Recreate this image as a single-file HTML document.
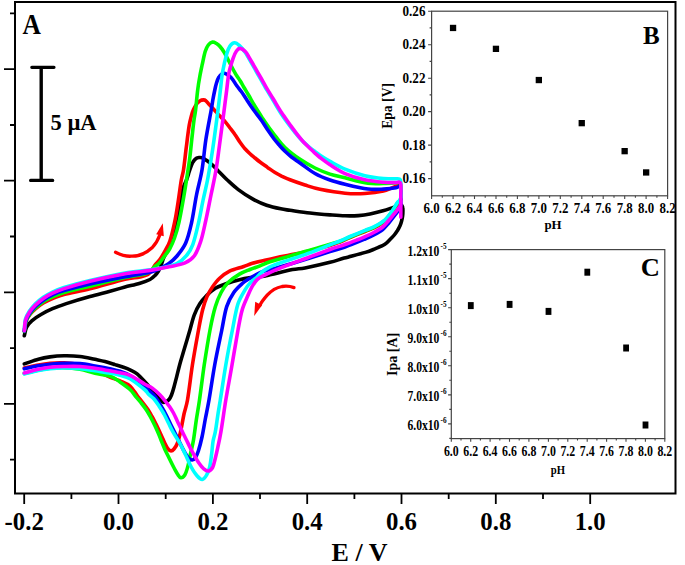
<!DOCTYPE html>
<html><head><meta charset="utf-8"><title>CV</title>
<style>
html,body{margin:0;padding:0;background:#fff;}
body{width:685px;height:565px;overflow:hidden;position:relative;}
svg{position:absolute;left:0;top:0;display:block;}
text{font-family:"Liberation Serif",serif;font-weight:bold;fill:#000;}
.xl{font-size:24.8px;text-anchor:middle;}
.xt{font-size:26px;text-anchor:middle;}
.pl{font-size:28.6px;}
.pl2{font-size:25px;}
.sb{font-size:22.5px;}
.byl{font-size:14.3px;text-anchor:end;}
.bxl{font-size:14px;text-anchor:middle;}
.bt{font-size:13px;text-anchor:middle;}
.bt2{font-size:14px;text-anchor:middle;}
.cyl{font-size:14px;text-anchor:end;}
.cye{font-size:8px;text-anchor:start;}
.cxl{font-size:15px;text-anchor:middle;}
</style></head><body>
<svg width="685" height="565" viewBox="0 0 685 565">
<path d="M15 2.1H675.5V493.5H15Z" fill="none" stroke="#000" stroke-width="2"/>
<path d="M10.0 13.4H15M4.0 69.2H15M10.0 125.0H15M4.0 180.7H15M10.0 236.5H15M4.0 292.3H15M10.0 348.1H15M4.0 403.9H15M10.0 459.6H15" stroke="#000" stroke-width="1.8"/>
<path d="M24.2 493.5V504.0M71.4 493.5V499.0M118.5 493.5V504.0M165.7 493.5V499.0M212.9 493.5V504.0M260.0 493.5V499.0M307.2 493.5V504.0M354.4 493.5V499.0M401.5 493.5V504.0M448.7 493.5V499.0M495.8 493.5V504.0M543.0 493.5V499.0M590.2 493.5V504.0" stroke="#000" stroke-width="1.8"/>
<text x="24.2" y="529.6" class="xl">-0.2</text>
<text x="118.5" y="529.6" class="xl">0.0</text>
<text x="212.9" y="529.6" class="xl">0.2</text>
<text x="307.2" y="529.6" class="xl">0.4</text>
<text x="401.5" y="529.6" class="xl">0.6</text>
<text x="495.8" y="529.6" class="xl">0.8</text>
<text x="590.2" y="529.6" class="xl">1.0</text>
<text x="359.5" y="561" class="xt">E / V</text>
<text transform="translate(22.6 34) scale(0.89 1)" class="pl">A</text>
<path d="M41.2 67.3V180.4" stroke="#000" stroke-width="3.4"/>
<path d="M31.8 67.3H54M30.6 180.4H52.7" stroke="#000" stroke-width="3.2" stroke-linecap="round"/>
<text x="50.5" y="129.7" class="sb">5 &#181;A</text>
<path d="M24.3 335.7C25.1 332.8 25.3 329.6 26.6 327.1C27.8 324.7 29.6 322.7 31.8 320.8C34.4 318.5 37.7 316.4 41.0 314.5C44.6 312.4 48.4 310.5 52.5 308.7C56.9 306.8 60.9 305.4 66.3 303.6C73.4 301.3 82.4 298.6 90.0 296.5C97.0 294.5 103.8 293.0 110.0 291.3C115.4 289.8 120.0 288.4 125.0 287.0C130.0 285.7 135.4 284.6 140.0 283.2C143.8 282.1 147.2 280.9 150.0 279.5C152.2 278.4 153.5 277.0 155.0 275.5C156.4 274.1 157.5 272.6 158.5 271.0C159.5 269.3 160.3 267.4 161.0 265.5C161.8 263.6 162.2 261.5 163.0 259.5C163.9 257.4 165.0 255.2 166.0 253.0C167.0 250.8 168.0 248.8 169.0 246.5C170.0 244.1 171.1 241.5 172.0 239.0C172.9 236.6 173.7 235.2 174.5 232.0C175.7 227.2 176.9 220.5 178.0 215.0C179.0 209.8 179.9 204.8 180.8 200.0C181.7 195.5 182.4 190.8 183.5 187.0C184.3 184.1 185.6 182.3 186.5 180.0C187.3 177.9 187.9 176.0 188.5 174.0C189.1 172.1 189.6 170.2 190.3 168.3C191.1 166.2 192.0 163.8 193.0 162.0C193.9 160.5 194.9 159.3 196.0 158.5C196.9 157.8 198.0 157.6 199.0 157.5C200.1 157.4 201.2 157.4 202.3 157.8C203.5 158.2 204.7 159.1 206.0 160.0C207.5 161.0 209.4 162.4 210.8 163.6C212.0 164.6 212.8 165.4 214.0 166.5C215.4 167.9 216.7 169.3 218.5 171.2C221.0 173.7 223.9 176.8 227.0 179.7C230.5 182.9 234.2 186.5 238.3 189.6C242.7 192.9 247.7 196.2 252.5 198.9C257.1 201.4 261.8 203.5 266.6 205.2C271.3 206.8 276.5 207.9 280.8 208.8C284.3 209.6 286.1 209.7 290.0 210.3C295.8 211.1 303.3 212.2 310.0 213.0C316.7 213.8 323.7 214.4 330.0 214.9C335.4 215.3 340.1 215.7 345.0 215.8C349.6 215.9 354.0 215.9 358.3 215.6C362.3 215.3 366.0 214.8 370.0 214.0C374.2 213.2 378.9 212.0 383.0 210.8C386.7 209.8 390.3 208.4 393.3 207.4C395.4 206.7 396.9 206.0 398.5 205.6C399.7 205.3 400.8 204.9 401.5 205.2C402.2 205.5 402.5 206.6 402.7 207.5C403.0 208.5 402.9 209.7 402.9 211.0C402.9 212.5 402.8 214.3 402.6 216.0C402.4 217.7 402.0 219.4 401.6 221.0C401.2 222.6 400.7 224.2 400.0 225.8C399.3 227.4 398.4 229.0 397.5 230.5C396.5 232.0 395.5 233.5 394.3 235.0C393.0 236.6 391.5 238.1 390.0 239.6C388.4 241.2 387.1 242.9 384.9 244.3C382.1 246.0 378.3 247.4 375.0 248.8C371.8 250.1 369.6 251.1 365.4 252.4C359.3 254.2 350.7 256.3 344.2 258.1C338.9 259.6 335.6 260.9 330.0 262.3C322.6 264.2 312.3 266.5 305.0 267.9C299.8 268.9 297.4 268.6 292.5 269.6C286.1 270.9 277.2 273.2 271.2 274.6C267.8 275.4 267.1 275.8 264.2 276.2C260.3 276.8 255.1 277.0 250.8 277.6C246.8 278.2 243.5 278.7 239.5 279.7C235.0 280.8 229.6 282.5 225.3 284.0C221.6 285.3 218.4 286.3 215.4 288.2C212.3 290.1 209.5 292.7 206.9 295.3C204.3 297.9 201.8 300.6 199.8 303.8C197.6 307.2 195.8 311.0 194.2 315.1C192.5 319.7 191.4 324.8 189.9 330.0C188.2 335.8 186.2 342.5 184.5 348.3C183.0 353.4 181.6 357.8 180.3 362.5C179.0 367.2 177.8 372.2 176.7 376.6C175.7 380.4 174.9 383.7 174.0 387.0C173.2 389.9 172.4 392.7 171.5 395.0C170.8 396.8 170.0 398.3 169.0 399.5C168.2 400.5 167.1 401.3 166.0 401.8C165.1 402.2 164.0 402.9 163.0 402.3C161.5 401.4 160.0 399.4 158.3 397.5C156.1 395.0 153.6 391.8 151.2 389.0C148.9 386.3 146.6 383.6 144.2 381.0C141.9 378.5 139.6 375.8 137.1 373.8C134.9 372.0 132.5 371.0 130.0 369.8C127.5 368.6 124.6 367.7 122.0 366.8C119.6 366.0 117.6 365.4 115.0 364.6C111.9 363.6 108.4 362.4 105.0 361.5C101.7 360.6 98.8 360.1 95.0 359.3C90.4 358.4 85.1 357.1 80.0 356.5C74.8 355.9 69.2 355.7 64.0 355.8C59.2 355.9 54.4 356.3 50.0 356.9C45.9 357.5 42.4 358.2 38.4 359.3C33.9 360.5 29.0 362.4 24.3 363.9" fill="none" stroke="#000000" stroke-width="3.6" stroke-linejoin="round" stroke-linecap="round"/>
<path d="M24.3 330.8C24.9 327.7 25.0 324.3 26.0 321.5C26.9 318.9 28.4 316.6 30.0 314.5C31.7 312.3 33.8 310.4 36.0 308.5C38.3 306.5 40.4 304.7 43.3 303.0C46.7 301.0 51.1 299.0 54.8 297.5C58.0 296.2 59.6 295.5 64.0 294.4C71.3 292.6 80.6 291.0 90.0 288.7C101.0 286.0 114.9 281.6 125.0 279.2C131.5 277.7 135.6 277.9 140.0 277.0C143.3 276.3 145.8 275.8 148.0 274.5C149.8 273.4 150.8 271.6 152.0 270.0C153.2 268.4 153.8 266.7 155.0 265.0C156.4 263.1 158.4 261.5 160.0 259.3C161.7 256.9 163.2 254.3 164.8 251.4C166.5 248.2 168.5 245.3 169.9 241.0C171.8 235.4 173.3 228.5 174.7 221.9C176.2 214.9 177.3 207.1 178.4 200.0C179.5 193.2 180.3 185.8 181.3 180.0C182.0 175.8 182.8 174.4 183.5 170.0C184.5 163.3 185.4 154.2 186.4 146.6C187.3 139.3 188.2 131.5 189.2 125.4C189.9 121.2 190.7 118.5 191.5 115.5C192.1 113.2 192.6 111.5 193.5 109.5C194.4 107.5 195.8 105.1 197.0 103.5C197.9 102.2 198.9 101.4 200.0 100.8C201.0 100.2 202.3 99.9 203.4 99.9C204.3 99.9 205.2 100.2 206.0 100.9C207.1 101.8 207.9 103.1 209.2 104.5C210.8 106.2 212.8 108.3 214.6 110.2C216.4 112.1 218.1 114.1 219.9 116.0C221.7 117.9 223.6 119.8 225.3 121.8C227.0 123.8 228.4 125.9 230.0 128.0C231.7 130.2 233.5 132.4 235.1 134.8C236.8 137.2 238.3 139.9 240.0 142.3C241.6 144.6 243.3 146.8 245.0 148.8C246.6 150.6 248.3 152.2 250.0 153.8C251.6 155.3 253.3 156.6 255.0 158.0C256.7 159.4 258.1 160.6 260.0 162.0C262.3 163.7 265.0 165.6 267.5 167.4C270.0 169.1 272.5 171.0 275.0 172.5C277.3 173.9 279.6 175.1 282.0 176.3C284.6 177.5 286.7 178.6 290.0 179.8C294.4 181.5 300.0 183.4 305.0 185.0C310.0 186.6 314.1 188.1 320.0 189.3C327.5 190.8 337.1 192.5 345.0 193.2C352.0 193.9 358.3 193.9 364.8 193.5C371.1 193.1 377.8 192.3 383.4 191.0C387.9 190.0 391.7 187.9 395.0 186.6C397.2 185.7 398.6 184.5 399.8 184.5C400.6 184.5 400.7 185.3 400.8 186.5C401.0 188.8 400.8 192.5 400.8 195.0C400.8 196.7 401.0 197.8 400.8 199.0C400.6 200.1 400.1 201.1 399.5 202.0C399.0 202.8 398.3 202.7 397.4 204.0C395.6 206.5 393.3 210.6 391.2 213.5C389.2 216.2 387.7 218.8 385.0 221.0C381.9 223.6 377.4 226.1 373.8 228.0C370.7 229.6 368.4 230.1 365.0 231.5C360.5 233.3 354.6 235.6 350.0 237.5C346.2 239.1 343.4 240.7 340.0 242.0C336.7 243.3 334.6 244.2 330.0 245.5C322.9 247.5 312.6 250.2 305.0 252.0C299.1 253.4 294.5 254.1 289.6 255.1C285.2 256.0 281.3 256.7 277.2 257.6C273.1 258.5 268.9 259.4 264.8 260.3C260.7 261.3 256.2 262.2 252.4 263.3C249.2 264.3 247.1 265.3 243.7 266.5C239.5 268.0 233.8 269.1 229.6 271.2C225.8 273.1 222.5 275.6 219.6 278.3C216.8 280.8 214.7 283.8 212.6 286.8C210.5 289.9 208.5 293.1 206.9 296.7C205.2 300.6 203.9 304.6 202.7 309.5C201.1 315.7 200.0 322.0 198.5 330.0C196.6 340.5 194.2 353.3 192.4 365.0C190.6 376.7 189.2 390.0 187.5 400.0C186.4 406.4 185.1 409.0 184.0 414.0C182.8 419.7 181.7 426.6 180.5 432.0C179.5 436.3 178.7 439.8 177.5 443.0C176.6 445.5 175.3 447.5 174.0 449.0C173.1 450.1 172.0 450.9 171.0 450.9C170.0 450.9 168.8 449.8 168.0 448.8C167.0 447.7 166.3 446.1 165.5 444.5C164.6 442.7 163.7 440.6 162.7 438.5C161.7 436.3 160.6 433.9 159.5 431.5C158.4 429.0 157.2 426.5 156.0 424.0C154.7 421.5 153.4 418.9 152.0 416.5C150.7 414.1 149.4 411.8 147.9 409.5C146.3 407.1 144.5 404.8 142.7 402.5C141.0 400.3 139.4 398.5 137.5 396.0C135.2 393.0 133.0 388.6 130.0 386.0C127.2 383.5 123.3 382.3 120.0 380.8C117.0 379.4 114.5 379.0 111.0 377.5C106.2 375.5 100.3 372.6 95.0 370.5C89.9 368.5 85.2 366.3 80.0 365.0C74.8 363.7 69.2 363.1 64.0 362.8C59.2 362.5 54.5 362.8 50.0 363.2C45.9 363.6 42.5 364.2 38.4 365.0C33.9 365.8 29.0 367.0 24.3 368.0" fill="none" stroke="#ff0000" stroke-width="3.6" stroke-linejoin="round" stroke-linecap="round"/>
<path d="M24.3 331.5C24.9 328.2 25.0 324.5 26.0 321.5C26.9 318.7 28.3 316.3 30.0 314.0C31.7 311.6 33.7 309.6 36.0 307.5C38.4 305.3 41.2 303.0 44.0 301.2C46.8 299.4 49.8 297.9 53.0 296.5C56.5 295.0 59.1 293.9 64.0 292.5C71.4 290.4 80.6 288.5 90.0 286.2C100.9 283.5 114.5 279.8 125.0 277.5C132.9 275.8 139.5 275.5 145.0 274.0C148.2 273.1 149.3 271.8 151.0 270.5C152.5 269.4 153.2 268.0 154.5 266.8C155.9 265.6 157.7 264.8 159.2 263.3C160.9 261.5 162.3 259.2 164.0 256.9C165.8 254.4 167.9 252.0 169.6 249.0C171.4 245.7 173.1 242.1 174.5 238.0C176.2 233.1 177.7 227.9 179.0 222.0C180.6 215.2 181.9 207.2 183.2 200.0C184.4 193.2 185.4 186.7 186.5 180.0C187.5 173.3 188.6 166.7 189.5 160.0C190.4 153.3 191.0 146.7 191.7 140.0C192.5 133.3 193.2 125.9 194.0 120.0C194.5 115.9 195.1 114.2 195.6 110.0C196.3 104.2 196.9 96.1 197.7 90.0C198.3 85.0 199.0 80.8 199.8 76.5C200.5 72.6 201.2 69.4 202.0 65.5C203.0 61.1 204.0 55.5 205.2 51.5C206.1 48.7 207.0 46.7 208.3 45.0C209.4 43.5 211.2 42.3 212.6 42.0C213.9 41.8 215.3 42.8 216.5 43.5C217.8 44.3 218.9 45.2 220.0 46.5C221.4 48.1 222.7 49.9 224.0 52.0C225.5 54.5 227.0 57.6 228.5 60.5C230.1 63.6 231.9 67.2 233.4 70.0C234.6 72.2 235.5 73.8 236.6 75.6C237.8 77.4 239.1 79.1 240.3 81.0C241.6 83.0 242.7 85.3 244.0 87.5C245.4 89.9 246.9 92.2 248.5 95.0C250.5 98.4 252.5 102.2 254.8 106.0C257.3 110.1 260.2 114.6 262.7 118.5C264.9 121.8 266.8 124.5 268.9 127.5C271.1 130.5 273.1 133.4 275.6 136.5C278.5 140.0 281.2 144.0 285.0 147.5C289.3 151.6 294.9 155.8 300.0 159.3C304.9 162.6 309.9 165.5 315.0 168.0C319.9 170.4 324.9 172.4 330.0 174.1C334.9 175.7 339.3 176.4 345.0 177.8C352.0 179.5 360.9 182.1 368.0 183.2C373.7 184.0 378.5 183.5 383.4 183.5C387.8 183.5 392.5 183.2 396.0 183.0C397.9 182.9 398.9 182.1 399.8 182.5C400.5 182.8 400.7 183.6 400.8 185.0C401.0 187.5 400.8 191.4 400.8 194.0C400.8 195.9 401.0 197.2 400.8 198.5C400.6 199.6 400.1 200.5 399.5 201.3C398.9 202.1 398.3 201.9 397.4 203.2C395.6 205.8 393.3 209.8 391.2 212.8C389.2 215.5 387.7 218.1 385.0 220.3C381.9 222.9 377.4 225.5 373.8 227.4C370.7 229.0 368.4 229.5 365.0 230.9C360.5 232.7 354.6 235.1 350.0 237.0C346.2 238.6 343.0 240.2 340.0 241.3C338.0 242.1 337.4 242.1 335.0 242.8C330.8 244.1 325.0 245.8 320.0 247.3C315.0 248.8 310.4 250.0 305.0 251.6C298.7 253.4 291.3 255.7 285.0 257.5C279.6 259.1 274.6 260.3 270.0 261.8C266.2 263.1 263.3 264.5 260.0 265.8C256.7 267.1 253.4 268.1 250.0 269.5C246.5 270.9 243.0 272.0 239.5 274.1C235.7 276.4 231.3 279.4 228.1 282.6C225.2 285.5 223.1 288.7 221.1 292.5C218.9 296.7 217.0 301.1 215.4 306.6C213.3 313.6 211.7 321.2 210.0 330.0C208.0 340.7 206.0 353.3 204.2 365.0C202.5 376.7 201.0 389.6 199.5 400.0C198.4 407.9 197.3 413.3 196.3 420.0C195.3 426.7 194.5 434.0 193.5 440.0C192.7 444.7 191.7 448.4 190.9 452.0C190.3 454.7 190.0 456.6 189.5 459.0C188.9 461.6 188.5 464.4 187.7 467.0C186.9 469.7 186.1 473.0 184.8 475.0C183.8 476.5 182.0 477.8 180.8 477.7C179.7 477.6 178.7 475.8 177.8 474.5C176.7 472.9 175.8 471.2 174.6 469.0C173.1 466.1 171.3 462.5 169.7 459.2C168.1 456.0 166.4 452.7 164.9 449.5C163.5 446.3 162.2 443.0 161.0 440.0C159.9 437.3 159.1 435.0 158.0 432.5C156.9 430.0 155.8 427.5 154.6 425.0C153.3 422.4 151.9 419.6 150.5 417.0C149.2 414.6 147.9 412.3 146.4 410.0C144.8 407.6 143.0 405.2 141.2 403.0C139.5 400.8 137.8 399.0 136.0 396.8C134.1 394.5 132.5 391.8 130.0 389.5C127.1 386.9 123.3 384.3 120.0 382.0C117.0 379.9 114.7 377.8 111.0 376.5C106.4 374.9 100.2 374.4 95.0 373.2C89.9 372.0 85.1 370.2 80.0 369.3C74.8 368.4 69.2 367.8 64.0 367.6C59.2 367.4 54.5 367.8 50.0 368.2C45.9 368.6 42.5 369.2 38.4 370.0C33.9 370.9 29.0 372.3 24.3 373.5" fill="none" stroke="#00ff00" stroke-width="3.6" stroke-linejoin="round" stroke-linecap="round"/>
<path d="M24.3 331.0C24.9 327.5 25.0 323.7 26.0 320.5C26.9 317.6 28.4 315.2 30.0 312.8C31.7 310.4 33.7 308.1 36.0 306.0C38.4 303.8 41.2 301.6 44.0 299.7C46.8 297.8 49.8 296.2 53.0 294.7C56.4 293.1 59.1 292.0 64.0 290.6C71.4 288.5 80.6 286.1 90.0 284.0C100.9 281.5 114.1 278.9 125.0 276.8C134.1 275.0 143.0 273.9 150.0 272.3C153.9 271.4 154.9 270.8 157.7 269.5C161.2 267.9 165.6 265.8 168.9 263.5C172.0 261.3 174.4 259.1 177.0 256.0C180.0 252.3 183.5 248.1 185.7 243.0C188.3 237.1 189.8 230.4 191.5 223.0C193.4 214.4 194.7 204.1 196.5 195.0C198.2 186.4 200.5 178.8 202.0 170.0C203.6 160.5 204.3 150.0 205.8 140.0C207.3 130.0 209.7 118.5 211.2 110.0C212.1 104.8 212.4 102.5 213.0 99.0C213.6 95.8 214.2 92.8 214.8 90.0C215.3 87.5 215.8 85.2 216.5 83.0C217.1 81.0 217.8 78.9 218.8 77.3C219.6 75.9 220.7 74.7 221.8 74.0C222.6 73.4 223.5 73.1 224.5 73.3C225.8 73.6 227.3 74.7 228.6 75.6C229.8 76.4 230.7 76.9 231.8 78.3C233.4 80.2 235.0 83.2 236.6 85.5C238.1 87.6 239.7 89.3 241.3 91.5C243.1 94.0 244.7 96.7 246.6 99.5C248.7 102.7 250.9 106.2 253.3 109.5C255.8 113.0 258.8 116.5 261.2 120.0C263.5 123.2 265.3 126.4 267.4 129.5C269.6 132.7 271.9 136.1 274.1 139.0C276.1 141.6 278.1 143.8 280.0 146.0C281.7 147.9 283.2 149.5 285.0 151.3C287.0 153.2 289.1 155.1 291.5 157.0C294.1 159.0 296.6 160.6 300.0 163.0C304.5 166.1 309.9 170.6 315.0 173.5C319.9 176.3 324.9 178.2 330.0 180.0C334.9 181.8 339.3 182.9 345.0 184.2C352.0 185.9 360.9 188.1 368.0 189.0C373.7 189.7 378.5 189.3 383.4 189.1C387.8 188.9 392.5 188.5 396.0 187.8C398.0 187.4 398.9 186.0 399.8 186.0C400.5 186.0 400.7 186.6 400.8 188.0C401.0 191.3 400.8 196.6 400.8 200.0C400.8 202.2 401.0 203.5 400.8 205.0C400.6 206.3 400.3 207.1 399.5 208.5C398.2 210.7 396.1 213.6 394.3 216.0C392.5 218.4 390.6 220.7 388.7 223.0C386.8 225.2 385.1 227.6 382.7 229.5C380.1 231.6 376.8 233.4 373.8 235.0C370.9 236.6 368.9 237.4 365.0 239.0C359.3 241.4 351.3 244.8 345.0 247.0C339.6 248.9 335.8 249.7 330.0 251.5C322.5 253.9 313.5 256.9 305.0 259.5C296.2 262.2 285.6 265.3 278.0 267.5C273.9 268.7 272.8 268.7 270.0 269.5C266.8 270.4 263.3 271.3 260.0 272.7C256.6 274.2 253.1 276.3 250.0 278.2C247.2 279.9 244.8 281.3 242.3 283.5C239.4 286.1 236.2 288.9 233.8 292.5C231.0 296.6 228.5 301.0 226.7 306.6C224.5 313.5 223.6 321.2 221.8 330.0C219.6 340.7 216.8 353.3 214.7 365.0C212.6 376.6 210.8 389.7 209.0 400.0C207.7 407.4 206.7 411.9 205.5 418.0C204.3 424.2 203.3 431.1 202.0 437.0C200.9 442.0 199.7 446.6 198.5 450.5C197.6 453.4 196.7 455.7 195.5 457.5C194.6 458.8 193.4 459.9 192.2 460.0C191.0 460.1 189.6 459.2 188.5 458.0C186.9 456.2 185.4 453.5 184.0 451.0C182.4 448.2 181.0 445.0 179.5 442.0C178.0 439.0 176.5 436.0 175.0 433.0C173.5 430.0 172.0 427.0 170.5 424.0C169.1 421.1 167.8 418.3 166.4 415.5C165.0 412.8 163.5 410.0 162.0 407.5C160.7 405.2 159.3 403.0 158.0 401.0C156.8 399.2 155.8 397.6 154.5 396.0C153.2 394.4 151.6 392.9 150.0 391.5C148.4 390.0 146.9 388.9 145.0 387.3C142.6 385.4 139.6 383.0 137.0 381.0C134.6 379.1 132.7 377.0 130.0 375.5C127.0 373.8 123.3 372.4 120.0 371.3C117.0 370.3 114.6 369.8 111.0 369.0C106.3 368.0 100.3 366.9 95.0 366.0C89.9 365.1 85.1 364.0 80.0 363.6C74.8 363.1 69.2 363.2 64.0 363.3C59.2 363.4 54.5 363.8 50.0 364.2C45.9 364.6 42.5 365.1 38.4 365.8C33.9 366.6 29.0 367.8 24.3 368.8" fill="none" stroke="#0000ff" stroke-width="3.6" stroke-linejoin="round" stroke-linecap="round"/>
<path d="M24.3 329.3C24.7 325.9 24.6 322.2 25.5 319.0C26.3 316.1 27.9 313.5 29.5 311.0C31.1 308.5 33.0 306.2 35.2 304.0C37.6 301.6 40.4 299.2 43.3 297.2C46.2 295.2 49.2 293.6 52.5 292.0C56.1 290.3 59.0 289.1 64.0 287.5C71.5 285.2 80.6 282.6 90.0 280.4C100.9 277.8 114.1 274.9 125.0 273.0C134.1 271.4 142.5 270.9 150.0 269.8C155.8 269.0 160.3 268.4 165.0 267.3C169.2 266.3 173.2 265.6 176.8 263.7C180.4 261.8 183.8 258.9 186.4 255.7C189.1 252.5 191.1 249.2 192.8 244.6C195.0 238.6 196.6 231.1 198.3 223.9C200.1 216.2 201.5 207.6 203.1 200.0C204.6 193.0 206.2 186.7 207.5 180.0C208.8 173.3 209.9 166.7 211.0 160.0C212.1 153.3 213.0 147.5 214.0 140.0C215.3 130.8 216.8 119.2 218.0 110.0C219.0 102.5 219.6 96.5 220.4 90.0C221.1 84.0 221.5 78.4 222.5 72.5C223.6 66.4 225.2 59.3 226.7 54.0C227.7 50.4 228.6 48.1 230.0 46.0C231.2 44.3 232.9 42.8 234.5 42.7C236.1 42.6 237.9 44.1 239.5 45.6C241.5 47.4 243.6 50.2 245.3 52.5C246.7 54.5 247.6 56.3 248.8 58.3C250.0 60.4 251.2 62.5 252.4 64.6C253.6 66.7 254.7 68.8 255.9 70.9C257.1 73.0 258.3 75.0 259.5 77.1C260.7 79.2 261.8 81.2 263.0 83.3C264.2 85.3 265.1 87.0 266.5 89.4C268.4 92.6 270.7 96.3 273.0 100.2C275.7 104.6 278.6 109.8 281.5 114.2C284.2 118.3 287.2 122.3 289.7 125.6C291.5 128.0 292.7 129.6 294.2 131.5C295.7 133.3 297.1 135.1 298.6 136.8C300.0 138.4 301.4 140.0 303.0 141.5C304.7 143.1 306.5 144.8 308.3 146.3C310.1 147.9 312.1 149.3 314.0 150.8C316.0 152.3 317.6 153.6 320.0 155.2C323.0 157.2 326.2 159.3 330.0 161.4C334.5 163.9 339.5 166.9 345.0 169.2C351.1 171.7 358.2 174.2 364.8 175.8C371.0 177.3 377.7 178.1 383.4 178.6C388.1 179.0 392.5 178.6 396.0 178.7C397.9 178.8 398.9 178.6 399.8 179.2C400.5 179.7 400.7 180.5 400.8 182.0C401.0 184.8 400.8 189.0 400.8 192.0C400.8 194.2 401.0 195.9 400.8 197.5C400.6 198.7 400.1 199.6 399.5 200.5C398.9 201.3 398.3 201.3 397.4 202.6C395.6 205.2 393.4 209.3 391.2 212.3C389.2 215.0 387.7 217.6 385.0 219.8C381.9 222.4 377.4 225.0 373.8 226.9C370.7 228.5 368.4 229.0 365.0 230.4C360.5 232.2 354.6 234.6 350.0 236.5C346.2 238.1 343.4 239.6 340.0 241.0C336.7 242.4 334.5 243.0 330.0 244.8C322.8 247.6 313.5 251.5 305.0 254.6C296.3 257.8 285.8 260.9 278.3 263.5C274.1 265.0 272.7 265.5 270.0 266.9C267.2 268.3 264.3 270.2 262.0 272.0C260.0 273.6 258.9 275.3 257.0 277.0C254.9 279.0 252.0 280.9 250.0 283.1C248.1 285.1 246.9 286.7 245.2 289.6C242.9 293.6 239.9 297.9 238.0 303.8C235.6 311.4 234.3 320.5 232.4 330.0C230.2 340.9 227.8 353.3 225.8 365.0C223.8 376.7 221.9 389.9 220.3 400.0C219.2 406.8 218.5 410.6 217.7 415.9C216.9 421.2 216.2 427.1 215.3 431.9C214.6 435.5 213.7 437.6 213.1 441.0C212.4 445.1 212.2 449.9 211.6 454.3C211.0 458.6 210.6 463.2 209.7 467.0C209.0 470.1 208.0 472.6 206.7 474.8C205.5 476.8 203.8 479.3 202.2 479.5C200.6 479.7 198.6 477.6 197.0 475.8C194.9 473.5 193.0 470.3 191.2 467.0C189.1 463.2 187.3 458.4 185.3 454.3C183.4 450.3 181.6 446.4 179.5 442.7C177.5 439.1 175.0 435.6 173.1 432.2C171.4 429.1 170.1 426.3 168.6 423.3C167.1 420.2 165.6 417.0 164.0 414.0C162.4 411.2 160.7 408.6 159.0 406.0C157.4 403.6 155.8 401.1 154.0 399.0C152.3 397.1 149.9 395.6 148.3 394.0C146.9 392.6 147.1 391.7 145.0 390.0C141.0 386.7 134.8 381.6 130.0 378.8C126.4 376.7 123.3 376.3 120.0 375.3C116.9 374.4 114.6 373.8 111.0 373.2C106.3 372.3 100.3 371.6 95.0 370.8C89.9 370.0 85.1 369.1 80.0 368.6C74.8 368.1 69.2 368.0 64.0 368.0C59.2 368.0 54.5 368.2 50.0 368.6C45.9 369.0 42.5 369.6 38.4 370.5C33.9 371.4 29.0 372.8 24.3 374.0" fill="none" stroke="#00ffff" stroke-width="3.6" stroke-linejoin="round" stroke-linecap="round"/>
<path d="M24.3 330.6C24.7 327.1 24.6 323.4 25.5 320.2C26.3 317.3 27.9 314.7 29.5 312.2C31.1 309.7 33.0 307.5 35.2 305.3C37.6 302.9 40.4 300.4 43.3 298.4C46.2 296.4 49.2 294.8 52.5 293.2C56.1 291.5 59.0 290.2 64.0 288.6C71.5 286.2 80.5 283.5 90.0 281.2C100.9 278.5 114.1 275.7 125.0 273.7C134.1 272.1 142.2 271.6 150.0 270.4C156.8 269.3 162.9 268.1 169.0 266.8C174.6 265.6 180.4 264.9 185.0 262.9C188.9 261.2 192.0 259.0 194.4 255.7C197.2 251.9 198.9 246.8 200.7 241.4C202.8 234.9 204.2 227.4 205.9 220.0C207.7 212.0 209.3 203.3 211.0 195.0C212.7 186.7 214.6 178.4 216.0 170.0C217.4 161.7 218.3 153.8 219.5 145.0C220.8 135.4 222.2 124.6 223.5 115.0C224.6 106.3 225.7 97.7 226.7 90.0C227.5 83.5 227.9 78.0 229.0 72.5C230.0 67.5 231.7 62.4 233.1 58.3C234.2 55.3 235.1 52.9 236.5 51.0C237.5 49.6 238.8 48.3 240.2 48.4C241.8 48.5 243.9 50.1 245.3 51.5C246.8 52.9 247.7 54.9 248.8 56.8C250.0 58.8 251.2 60.9 252.4 63.0C253.6 65.1 254.7 67.1 255.9 69.2C257.1 71.3 258.3 73.3 259.5 75.4C260.7 77.5 261.8 79.5 263.0 81.6C264.2 83.7 265.1 85.4 266.5 87.8C268.4 91.0 270.7 94.7 273.0 98.5C275.7 102.9 278.6 108.1 281.5 112.5C284.2 116.6 287.3 120.8 289.7 124.2C291.5 126.7 292.7 128.4 294.2 130.4C295.7 132.4 297.1 134.3 298.6 136.2C300.0 138.0 301.4 139.8 303.0 141.5C304.7 143.3 306.5 145.0 308.3 146.8C310.2 148.6 312.1 150.5 314.0 152.3C316.0 154.1 317.6 155.6 320.0 157.5C323.0 159.8 326.2 162.3 330.0 164.8C334.5 167.7 339.5 171.2 345.0 173.6C351.1 176.2 358.2 178.3 364.8 179.8C371.0 181.2 377.7 181.8 383.4 182.3C388.1 182.7 392.5 182.6 396.0 182.6C397.9 182.6 398.6 181.9 399.5 182.2C400.2 182.4 400.7 182.6 400.8 184.0C401.1 187.2 400.8 191.2 400.8 196.0C400.8 202.3 400.8 210.1 400.8 217.2M400.8 199.0C400.7 200.7 400.9 202.5 400.6 204.0C400.4 205.3 400.1 206.2 399.2 207.5C398.0 209.4 396.0 211.5 394.3 213.6C392.5 215.8 390.6 218.3 388.7 220.5C386.8 222.7 385.1 225.1 382.7 227.0C380.1 229.1 376.8 230.9 373.8 232.5C370.9 234.1 367.8 235.4 365.0 236.6C362.6 237.7 361.1 238.4 358.3 239.5C354.4 241.0 349.6 242.9 345.0 244.5C340.2 246.2 335.8 247.4 330.0 249.5C322.5 252.2 313.5 255.5 305.0 258.7C296.2 262.0 286.1 265.7 278.3 268.9C272.5 271.2 268.3 273.2 264.2 275.3C261.2 276.8 259.1 277.7 257.1 279.6C255.1 281.5 253.6 284.1 252.1 286.6C250.5 289.3 249.4 291.9 248.0 295.3C246.2 299.6 243.8 304.2 242.3 309.5C240.5 315.7 239.5 322.0 238.0 330.0C236.1 340.5 234.0 353.3 232.0 365.0C230.0 376.7 227.7 388.6 225.8 400.0C224.0 410.9 222.5 422.6 220.9 431.9C219.8 438.5 218.8 442.9 217.7 447.8C216.8 452.1 215.9 455.9 215.0 459.5C214.2 462.5 213.8 465.4 212.6 467.5C211.6 469.2 210.0 470.8 208.5 471.0C207.1 471.2 205.2 470.1 203.8 468.9C202.0 467.5 200.6 465.6 198.9 463.1C196.7 459.8 194.2 455.3 192.1 451.4C190.0 447.5 188.1 443.4 186.3 439.7C184.7 436.4 183.2 433.5 181.7 430.4C180.3 427.4 178.9 424.4 177.5 421.5C176.1 418.6 174.9 415.6 173.5 413.0C172.2 410.6 170.9 408.6 169.5 406.5C168.1 404.5 166.6 402.7 165.0 400.8C163.3 398.7 161.6 396.5 159.6 394.5C157.4 392.3 154.8 389.9 152.3 388.1C150.0 386.5 148.0 385.9 145.0 384.2C140.6 381.7 134.7 377.4 130.0 375.3C126.4 373.6 123.3 373.5 120.0 372.8C116.9 372.1 114.6 371.7 111.0 371.0C106.2 370.1 100.3 369.0 95.0 368.2C89.9 367.5 85.1 366.8 80.0 366.5C74.8 366.2 69.2 366.4 64.0 366.5C59.2 366.6 54.5 366.8 50.0 367.3C45.9 367.7 42.5 368.4 38.4 369.3C33.9 370.3 29.0 371.8 24.3 373.0" fill="none" stroke="#ff00ff" stroke-width="3.6" stroke-linejoin="round" stroke-linecap="round"/>
<path d="M115.5 252.2C122 255.5 127 256.4 131 256.2C139 256.5 146.5 253 152 247.8C155.8 244 158.2 239.5 159.8 235" fill="none" stroke="#f00" stroke-width="3.3" stroke-linecap="round"/>
<path d="M162.8 223.2L156.2 234.3L163.8 236.2Z" fill="#f00"/>
<path d="M294 287.6C290 286.1 286 285.9 282 286.5C276 287.6 271 291 267.2 295.2C263.7 299.2 261.2 302.6 259.8 305.4" fill="none" stroke="#f00" stroke-width="3.3" stroke-linecap="round"/>
<path d="M254.2 315.9L255.2 301.8L262 305.2Z" fill="#f00"/>
<rect x="431.6" y="11.2" width="236.0" height="184.6" fill="#fff" stroke="#444" stroke-width="1.2"/>
<path d="M428.1 11.2H431.6M429.6 27.9H431.6M428.1 44.7H431.6M429.6 61.4H431.6M428.1 78.2H431.6M429.6 94.9H431.6M428.1 111.6H431.6M429.6 128.4H431.6M428.1 145.1H431.6M429.6 161.9H431.6M428.1 178.6H431.6M431.6 195.8V199.0M442.3 195.8V197.8M453.1 195.8V199.0M463.8 195.8V197.8M474.5 195.8V199.0M485.2 195.8V197.8M496.0 195.8V199.0M506.7 195.8V197.8M517.4 195.8V199.0M528.1 195.8V197.8M538.9 195.8V199.0M549.6 195.8V197.8M560.3 195.8V199.0M571.1 195.8V197.8M581.8 195.8V199.0M592.5 195.8V197.8M603.2 195.8V199.0M614.0 195.8V197.8M624.7 195.8V199.0M635.4 195.8V197.8M646.1 195.8V199.0M656.9 195.8V197.8M667.6 195.8V199.0" stroke="#444" stroke-width="1.1"/>
<text transform="translate(425.5 15.6) scale(0.92 1)" class="byl">0.26</text>
<text transform="translate(425.5 49.1) scale(0.92 1)" class="byl">0.24</text>
<text transform="translate(425.5 82.6) scale(0.92 1)" class="byl">0.22</text>
<text transform="translate(425.5 116.0) scale(0.92 1)" class="byl">0.20</text>
<text transform="translate(425.5 149.5) scale(0.92 1)" class="byl">0.18</text>
<text transform="translate(425.5 183.0) scale(0.92 1)" class="byl">0.16</text>
<text transform="translate(431.6 212.5) scale(0.92 1)" class="bxl">6.0</text>
<text transform="translate(453.1 212.5) scale(0.92 1)" class="bxl">6.2</text>
<text transform="translate(474.5 212.5) scale(0.92 1)" class="bxl">6.4</text>
<text transform="translate(496.0 212.5) scale(0.92 1)" class="bxl">6.6</text>
<text transform="translate(517.4 212.5) scale(0.92 1)" class="bxl">6.8</text>
<text transform="translate(538.9 212.5) scale(0.92 1)" class="bxl">7.0</text>
<text transform="translate(560.3 212.5) scale(0.92 1)" class="bxl">7.2</text>
<text transform="translate(581.8 212.5) scale(0.92 1)" class="bxl">7.4</text>
<text transform="translate(603.2 212.5) scale(0.92 1)" class="bxl">7.6</text>
<text transform="translate(624.7 212.5) scale(0.92 1)" class="bxl">7.8</text>
<text transform="translate(646.1 212.5) scale(0.92 1)" class="bxl">8.0</text>
<text transform="translate(667.6 212.5) scale(0.92 1)" class="bxl">8.2</text>
<text transform="translate(553 228.6) scale(0.97 1)" class="bt" style="font-size:13.3px">pH</text>
<text transform="translate(391.6 105.9) rotate(-90) scale(0.91 1)" class="bt2" style="font-size:15px">Epa [V]</text>
<text x="643" y="43.7" class="pl2">B</text>
<rect x="449.9" y="24.8" width="6.3" height="6.3"/>
<rect x="492.8" y="45.7" width="6.3" height="6.3"/>
<rect x="535.7" y="76.9" width="6.3" height="6.3"/>
<rect x="578.6" y="120.0" width="6.3" height="6.3"/>
<rect x="621.5" y="148.0" width="6.3" height="6.3"/>
<rect x="643.0" y="169.3" width="6.3" height="6.3"/>
<rect x="451.3" y="249.6" width="213.5" height="189.0" fill="#fff" stroke="#444" stroke-width="1.2"/>
<path d="M448.1 249.6H451.3M449.3 264.1H451.3M448.1 278.6H451.3M449.3 293.2H451.3M448.1 307.7H451.3M449.3 322.2H451.3M448.1 336.8H451.3M449.3 351.3H451.3M448.1 365.8H451.3M449.3 380.3H451.3M448.1 394.9H451.3M449.3 409.4H451.3M448.1 423.9H451.3M449.3 438.4H451.3M451.3 438.6V441.8M461.0 438.6V440.6M470.7 438.6V441.8M480.4 438.6V440.6M490.1 438.6V441.8M499.8 438.6V440.6M509.5 438.6V441.8M519.2 438.6V440.6M528.9 438.6V441.8M538.6 438.6V440.6M548.4 438.6V441.8M558.1 438.6V440.6M567.8 438.6V441.8M577.5 438.6V440.6M587.2 438.6V441.8M596.9 438.6V440.6M606.6 438.6V441.8M616.3 438.6V440.6M626.0 438.6V441.8M635.7 438.6V440.6M645.4 438.6V441.8M655.1 438.6V440.6M664.8 438.6V441.8" stroke="#444" stroke-width="1.1"/>
<text transform="translate(439.4 255.8) scale(0.83 1)" class="cyl">1.2x10</text>
<text transform="translate(440.6 248.9) scale(0.9 1)" class="cye">-5</text>
<text transform="translate(439.4 284.8) scale(0.83 1)" class="cyl">1.1x10</text>
<text transform="translate(440.6 277.9) scale(0.9 1)" class="cye">-5</text>
<text transform="translate(439.4 313.9) scale(0.83 1)" class="cyl">1.0x10</text>
<text transform="translate(440.6 307.0) scale(0.9 1)" class="cye">-5</text>
<text transform="translate(439.4 342.9) scale(0.83 1)" class="cyl">9.0x10</text>
<text transform="translate(440.6 336.1) scale(0.9 1)" class="cye">-6</text>
<text transform="translate(439.4 372.0) scale(0.83 1)" class="cyl">8.0x10</text>
<text transform="translate(440.6 365.1) scale(0.9 1)" class="cye">-6</text>
<text transform="translate(439.4 401.1) scale(0.83 1)" class="cyl">7.0x10</text>
<text transform="translate(440.6 394.2) scale(0.9 1)" class="cye">-6</text>
<text transform="translate(439.4 430.1) scale(0.83 1)" class="cyl">6.0x10</text>
<text transform="translate(440.6 423.2) scale(0.9 1)" class="cye">-6</text>
<text transform="translate(451.3 456.4) scale(0.79 1)" class="cxl">6.0</text>
<text transform="translate(470.7 456.4) scale(0.79 1)" class="cxl">6.2</text>
<text transform="translate(490.1 456.4) scale(0.79 1)" class="cxl">6.4</text>
<text transform="translate(509.5 456.4) scale(0.79 1)" class="cxl">6.6</text>
<text transform="translate(528.9 456.4) scale(0.79 1)" class="cxl">6.8</text>
<text transform="translate(548.4 456.4) scale(0.79 1)" class="cxl">7.0</text>
<text transform="translate(567.8 456.4) scale(0.79 1)" class="cxl">7.2</text>
<text transform="translate(587.2 456.4) scale(0.79 1)" class="cxl">7.4</text>
<text transform="translate(606.6 456.4) scale(0.79 1)" class="cxl">7.6</text>
<text transform="translate(626.0 456.4) scale(0.79 1)" class="cxl">7.8</text>
<text transform="translate(645.4 456.4) scale(0.79 1)" class="cxl">8.0</text>
<text transform="translate(664.8 456.4) scale(0.79 1)" class="cxl">8.2</text>
<text transform="translate(557.9 473.7) scale(0.93 1)" class="bt" style="font-size:11.5px">pH</text>
<text transform="translate(396.9 354.4) rotate(-90) scale(0.97 1)" class="bt2" style="font-size:14.5px">Ipa [A]</text>
<text transform="translate(640.8 276) scale(1.06 1)" class="pl2">C</text>
<rect x="467.9" y="302.1" width="5.8" height="7"/>
<rect x="506.7" y="300.9" width="5.8" height="7"/>
<rect x="545.6" y="307.9" width="5.8" height="7"/>
<rect x="584.4" y="268.7" width="5.8" height="7"/>
<rect x="623.2" y="344.5" width="5.8" height="7"/>
<rect x="642.6" y="421.5" width="5.8" height="7"/>
</svg>
</body></html>
